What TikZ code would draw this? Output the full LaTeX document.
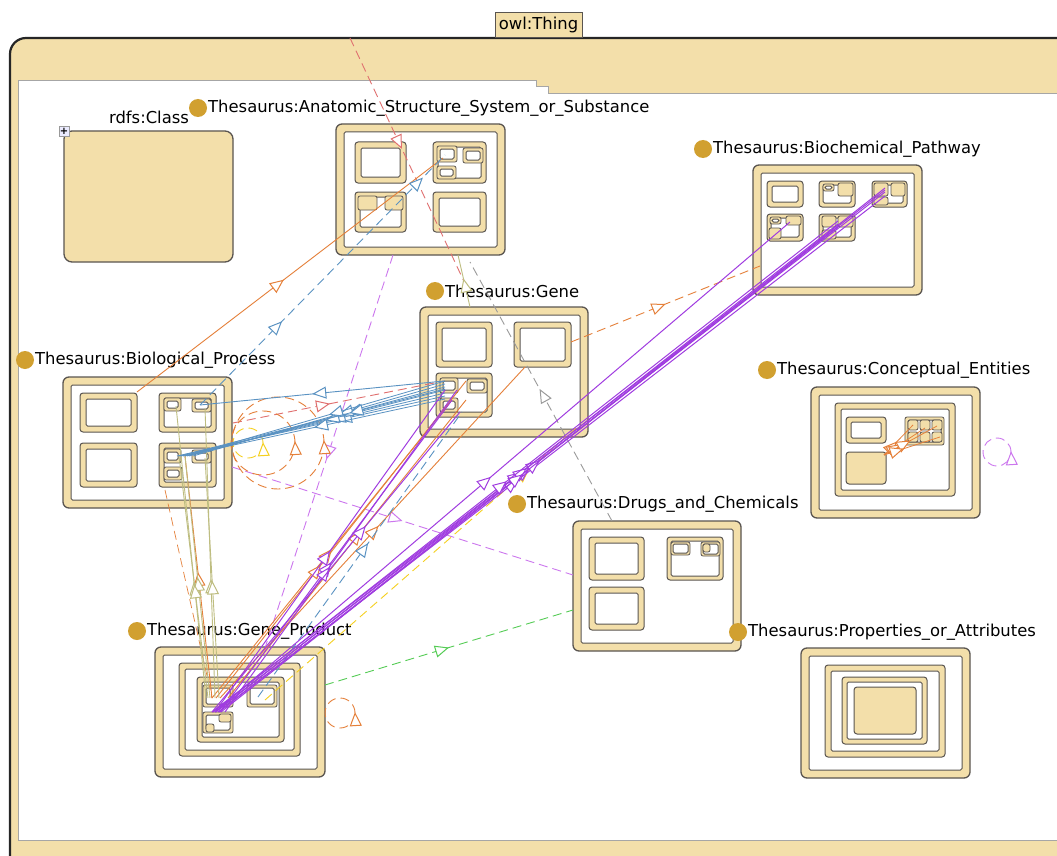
\documentclass[tikz,border=0pt]{standalone}
\usepackage{fontspec}
\setmainfont{DejaVu Sans}
\usetikzlibrary{arrows.meta,decorations.markings}
\definecolor{tanf}{HTML}{F3DFAA}
\definecolor{gold}{HTML}{D1A030}
\definecolor{frm}{HTML}{5A5550}
\definecolor{eblue}{HTML}{5A92C2}
\definecolor{eorange}{HTML}{E5803A}
\definecolor{epurple}{HTML}{A03CE0}
\definecolor{elpurple}{HTML}{CC77EE}
\definecolor{eolive}{HTML}{BEBD80}
\definecolor{eyellow}{HTML}{F5D020}
\definecolor{egreen}{HTML}{55CC55}
\definecolor{egray}{HTML}{9A9A9A}
\definecolor{ered}{HTML}{E07070}
\newcommand{\us}{\char"5F\relax}
\newcommand{\lblfont}{\fontsize{16.4}{19}\selectfont}
\newcommand{\ringbox}[7][]{%
  \node[tanbox,#1,minimum width={#5-#3},minimum height={#6-#4}] (#2) at ({(#3+#5)/2},{(#4+#6)/2}) {};
  \node[whbox,minimum width={#5-#3-2*#7},minimum height={#6-#4-2*#7}] (#2i) at (#2.center) {};}
\newcommand{\tanrect}[6][]{%
  \node[tanbox,#1,minimum width={#5-#3},minimum height={#6-#4}] (#2) at ({(#3+#5)/2},{(#4+#6)/2}) {};}
\newcommand{\clabel}[4]{%
  \node[circle,fill=gold,minimum size=18pt,inner sep=0pt] (#1dot) at (#2,#3) {};
  \node[anchor=west,inner sep=0pt,font=\lblfont] (#1lbl) at (#2+10,#3) {#4};}
\begin{document}
\begin{tikzpicture}[x=1pt,y=-1pt,
  tanbox/.style={draw=frm,fill=tanf,line width=1.3pt,rounded corners=6pt,inner sep=0pt},
  whbox/.style={draw=frm,fill=white,line width=1pt,rounded corners=1.5pt,inner sep=0pt},
  sm/.style={rounded corners=3pt,line width=1pt},
  tiny/.style={rounded corners=2pt,line width=0.8pt},
  edge/.style={line width=0.9pt},
  dsh/.style={dash pattern=on 9pt off 5pt},
  arr/.style={postaction={decorate,decoration={markings,mark=at position #1 with {\arrow{Triangle[length=14pt,width=12pt,fill=white,line width=1pt]}}}}},
  eb/.style={edge,draw=eblue},
  eo/.style={edge,draw=eorange},
  ep/.style={edge,draw=epurple,line width=1pt},
  elp/.style={edge,draw=elpurple},
  eol/.style={edge,draw=eolive},
  ey/.style={edge,draw=eyellow},
  eg/.style={edge,draw=egreen},
  egr/.style={edge,draw=egray},
  er/.style={edge,draw=ered},
]
\useasboundingbox (0,0) rectangle (1057,856);
\clip (0,0) rectangle (1057,856);
% ---------------- container owl:Thing
\draw[fill=tanf,draw=black!85,line width=2.2pt,rounded corners=16pt] (10,38) rectangle (1100,900);
\draw[fill=white,draw=gray!70,line width=1pt] (18,81) -- (536,81) -- (536,87) -- (548,87) -- (548,94) -- (1100,94) -- (1100,840) -- (18,840) -- cycle;
\node[fill=tanf,draw=frm,line width=0.8pt,inner sep=0pt,minimum width=87pt,minimum height=25pt,font=\lblfont] (owl) at (538.5,24.5) {owl:Thing};
% ---------------- rdfs:Class
\tanrect[rounded corners=8pt]{rdfs}{64}{131}{233}{262}
\node[font=\lblfont] (rdfslbl) at (149,117) {rdfs:Class};
\node[draw=gray!80,fill=blue!8,minimum size=10pt,inner sep=0pt,font=\bfseries\fontsize{10}{10}\selectfont] (plus) at (64,131) {+};
% ---------------- Anatomic
\ringbox{ana}{336}{124}{505}{255}{8}
\ringbox[sm]{anaA}{355}{142}{406}{183}{6}
\ringbox[sm]{anaB}{433}{142}{486}{183}{5}
\ringbox[sm]{anaC}{355}{192}{406}{232}{5}
\ringbox[sm]{anaD}{433}{192}{486}{232}{6}
\ringbox[tiny]{anaB1}{437}{146}{457}{162}{3}
\ringbox[tiny]{anaB2}{463}{148}{483}{163}{3}
\ringbox[tiny]{anaB3}{437}{166}{456}{179}{3}
\tanrect[tiny]{anaC1}{358}{196}{377}{210}
\tanrect[tiny]{anaC2}{385}{196}{403}{210}
\clabel{ana}{198}{108}{Thesaurus:Anatomic\us Structure\us System\us or\us Substance}
% ---------------- Biochemical
\ringbox{bio}{753}{165}{922}{295}{8}
\ringbox[sm]{bioA}{767}{181}{803}{207}{5}
\ringbox[sm]{bioB}{819}{181}{855}{207}{4}
\ringbox[sm]{bioC}{872}{181}{907}{207}{4}
\ringbox[sm]{bioD}{767}{214}{803}{241}{4}
\ringbox[sm]{bioE}{819}{214}{855}{241}{4}
\ringbox[tiny]{bioB1}{823}{184}{834}{191}{2}
\tanrect[tiny]{bioB2}{838}{183}{853}{196}
\tanrect[tiny]{bioC1}{874}{183}{888}{196}
\tanrect[tiny]{bioC2}{891}{183}{905}{196}
\tanrect[tiny]{bioC3}{874}{197}{888}{205}
\ringbox[tiny]{bioD1}{770}{217}{781}{224}{2}
\tanrect[tiny]{bioD2}{786}{216}{801}{225}
\tanrect[tiny]{bioD3}{769}{228}{781}{239}
\tanrect[tiny]{bioE1}{822}{216}{836}{227}
\tanrect[tiny]{bioE2}{838}{216}{853}{227}
\tanrect[tiny]{bioE3}{822}{230}{836}{239}
\clabel{bio}{703}{149}{Thesaurus:Biochemical\us Pathway}
% ---------------- Gene
\ringbox{gen}{420}{307}{588}{437}{8}
\ringbox[sm]{genA}{436}{322}{492}{367}{6}
\ringbox[sm]{genB}{514}{322}{571}{367}{6}
\ringbox[sm]{genC}{436}{373}{492}{417}{5}
\ringbox[tiny]{genC1}{440}{378}{458}{393}{3}
\ringbox[tiny]{genC2}{467}{379}{487}{393}{3}
\ringbox[tiny]{genC3}{440}{398}{458}{412}{3}
\clabel{gen}{435}{291}{Thesaurus:Gene}
% ---------------- Biological Process
\ringbox{bp}{63}{377}{232}{508}{8}
\ringbox[sm]{bpA}{80}{393}{137}{432}{6}
\ringbox[sm]{bpB}{159}{393}{216}{432}{5}
\ringbox[sm]{bpC}{80}{443}{137}{487}{6}
\ringbox[sm]{bpD}{159}{443}{216}{487}{5}
\ringbox[tiny]{bpB1}{164}{398}{181}{411}{3}
\ringbox[tiny]{bpB2}{192}{399}{211}{412}{3}
\ringbox[tiny]{bpD1}{164}{449}{181}{463}{3}
\ringbox[tiny]{bpD2}{192}{450}{211}{463}{3}
\ringbox[tiny]{bpD3}{164}{467}{182}{480}{3}
\clabel{bp}{25}{360}{Thesaurus:Biological\us Process}
% ---------------- Conceptual
\ringbox{ce}{811}{387}{980}{518}{8}
\ringbox[sm]{ceN}{835}{403}{955}{496}{6}
\ringbox[sm]{ceA}{846}{417}{886}{443}{5}
\tanrect[sm]{ceF}{846}{452}{886}{484}
\ringbox[tiny]{ceG}{905}{417}{944}{445}{3}
\foreach \i/\xa in {1/908,2/920,3/932}{
  \foreach \j/\ya in {1/420,2/432}{
    \tanrect[tiny]{ceg\i\j}{\xa}{\ya}{\xa+10}{\ya+10}
  }}
\clabel{ce}{767}{370}{Thesaurus:Conceptual\us Entities}
% ---------------- Drugs
\ringbox{dr}{573}{521}{741}{651}{8}
\ringbox[sm]{drA}{589}{537}{644}{580}{6}
\ringbox[sm]{drB}{589}{587}{644}{630}{6}
\ringbox[sm]{drC}{667}{537}{723}{580}{4}
\ringbox[tiny]{drC1}{671}{542}{690}{555}{2}
\ringbox[tiny]{drC2}{701}{542}{720}{556}{2}
\tanrect[tiny]{drC3}{703}{544}{710}{552}
\clabel{dr}{517}{504}{Thesaurus:Drugs\us and\us Chemicals}
% ---------------- Properties
\ringbox{pr}{801}{648}{970}{778}{8}
\ringbox[sm]{prN1}{825}{665}{945}{757}{6}
\ringbox[sm]{prN2}{842}{677}{927}{744}{5}
\tanrect[sm]{prF}{854}{687}{916}{734}
\clabel{pr}{738}{632}{Thesaurus:Properties\us or\us Attributes}
% ---------------- Gene Product
\ringbox{gp}{155}{647}{325}{777}{8}
\ringbox[sm]{gpN1}{179}{663}{300}{756}{6}
\ringbox[sm]{gpN2}{197}{677}{284}{742}{5}
\ringbox[tiny]{gpA}{203}{685}{233}{707}{3}
\ringbox[tiny]{gpB}{247}{685}{277}{707}{3}
\ringbox[tiny]{gpC}{203}{712}{233}{733}{3}
\tanrect[tiny]{gpC1}{206}{724}{214}{732}
\tanrect[tiny]{gpC2}{219}{714}{231}{722}
\clabel{gpl}{137}{631}{Thesaurus:Gene\us Product}
% ---------------- connector end points
\coordinate (top) at (350,38);
\coordinate (gtop) at (468,290);
\coordinate (gTop2) at (470,307);
\coordinate (anaBot) at (458,255);
\coordinate (anaBot2) at (393,255);
\coordinate (anaTR) at (445,155);
\coordinate (anaTR2) at (443,158);
\coordinate (bpTL) at (137,392);
\coordinate (bpTR) at (200,405);
\coordinate (bpTRb) at (176,406);
\coordinate (bpTRc) at (205,408);
\coordinate (bpBR) at (185,456);
\coordinate (bpBRb) at (205,458);
\coordinate (bpR) at (233,423);
\coordinate (bpR2) at (232,467);
\coordinate (bpB) at (165,490);
\coordinate (genBL) at (445,390);
\coordinate (genBL1) at (444,381);
\coordinate (genBL2) at (452,400);
\coordinate (genBL3) at (462,412);
\coordinate (genTR) at (525,367);
\coordinate (genTR2) at (571,342);
\coordinate (genBR) at (576,428);
\coordinate (bcL) at (760,266);
\coordinate (bc3) at (885,192);
\coordinate (bc5) at (838,224);
\coordinate (bc4) at (790,222);
\coordinate (drT) at (612,521);
\coordinate (gyTop) at (470,262);
\coordinate (drL) at (573,575);
\coordinate (drL2) at (573,610);
\coordinate (gpP) at (215,712);
\coordinate (gpO) at (212,698);
\coordinate (gpR) at (325,685);
\coordinate (gpTR) at (258,697);
\coordinate (gpY) at (265,700);
\coordinate (gpT) at (265,648);
\coordinate (ceS) at (884,455);
\coordinate (ceT1) at (913,425);
\coordinate (ceT2) at (925,428);
\coordinate (ceT3) at (937,426);
\coordinate (ceT4) at (940,437);
\coordinate (loopY) at (263,443);
\coordinate (loopO1) at (295,443);
\coordinate (loopO2) at (324,443);
\coordinate (loopGP) at (355,713);
\coordinate (loopCE) at (1011,452);
% ---------------- connectors
% light purple dashed
\draw[elp,dsh,arr=0.52] (anaBot2) -- (gpT);
\draw[elp,dsh,arr=0.5] (bpR2) -- (drL);
\draw[elp,dsh,arr=0.01] (loopCE) arc[start angle=0,end angle=360,radius=14pt];
% red / gray / olive near top
\draw[er,dsh,arr=0.44] (top) -- (gtop);
\draw[er,dsh,arr=0.46] (bpR) -- (genBL1);
\draw[egr,dsh,arr=0.51] (drT) -- (gyTop);
\draw[eol,arr=0.55] (gTop2) -- (anaBot);
% green
\draw[eg,dsh,arr=0.5] (gpR) -- (drL2);
% yellow
\draw[ey,dsh,arr=0.85] (gpY) -- (genBR);
\draw[ey,dsh,arr=0.01] (loopY) arc[start angle=0,end angle=360,radius=15pt];
% orange
\draw[eo,dsh,arr=0.01] (loopO1) arc[start angle=0,end angle=360,radius=32pt];
\draw[eo,dsh,arr=0.01] (loopO2) arc[start angle=0,end angle=360,radius=46pt];
\draw[eo,dsh,arr=0.01] (loopGP) arc[start angle=0,end angle=360,radius=15pt];
\draw[eo,arr=0.48] (bpTL) -- (anaTR2);
\draw[eo,dsh,arr=0.5] (genTR2) -- (bcL);
\draw[eo,arr=0.5] (gpO) -- (genBL2);
\draw[eo,arr=0.52] ([xshift=8pt]gpO) -- (genTR);
\draw[eo,arr=0.56] ([xshift=16pt]gpO) -- ([xshift=14pt]genBL2);
\draw[eo,arr=0.42] ([xshift=4pt]gpO) -- ([xshift=22pt]genBL1);
\draw[eo,arr=0.52] (gpO) -- (bpBR);
\draw[eo,dsh,line width=0.7pt] (bpB) -- (gpO);
\foreach \t/\p in {ceT1/0.45,ceT2/0.4,ceT3/0.5,ceT4/0.35}
  \draw[eo,line width=0.8pt,arr=\p] (ceS) -- (\t);
% olive
\draw[eol,arr=0.4] ([xshift=-6pt]gpO) -- (bpTRb);
\draw[eol,arr=0.5] ([xshift=-2pt]gpO) -- (bpBR);
\draw[eol,arr=0.41] ([xshift=3pt]gpO) -- (bpTRc);
\draw[eol,arr=0.49] ([xshift=7pt]gpO) -- (bpBRb);
\draw[eol,arr=0.47] ([xshift=-4pt]gpO) -- ([xshift=-6pt]bpBR);
% blue
\draw[eb,arr=0.54] (genBL1) -- (bpTR);
\foreach \s/\t/\p in {-6/-8/0.40,-3/-4/0.43,0/0/0.46,3/4/0.38,6/8/0.42,9/2/0.45,-9/-2/0.50,1/-6/0.36}
  \draw[eb,line width=0.8pt,arr=\p] ([yshift=\s pt]genBL) -- ([xshift=\t pt]bpBR);
\draw[eb,dsh,arr=0.335,arr=0.91] (bpTR) -- (anaTR);
\draw[eb,dsh,arr=0.54] (gpTR) -- (genBL3);
% purple
\draw[ep,arr=0.5] (gpP) -- (genBL);
\draw[ep,arr=0.48] ([xshift=5pt]gpP) -- (genBL2);
\draw[ep,arr=0.45] ([xshift=10pt]gpP) -- ([xshift=12pt]genBL);
\draw[ep,arr=0.62] ([xshift=-3pt]gpP) -- ([xshift=-2pt]genBL3);
\foreach \s/\t/\p in {0/0/0.47,3/-4/0.45,6/4/0.48,-3/2/0.46}
  \draw[ep,arr=\p] ([xshift=\s pt]gpP) -- ([yshift=\t pt]bc3);
\foreach \s/\t/\p in {1/0/0.5,4/-3/0.49,-2/3/0.47}
  \draw[ep,arr=\p] ([xshift=\s pt]gpP) -- ([yshift=\t pt]bc5);
\draw[ep,arr=0.48] (gpP) -- (bc4);
\end{tikzpicture}
\end{document}
